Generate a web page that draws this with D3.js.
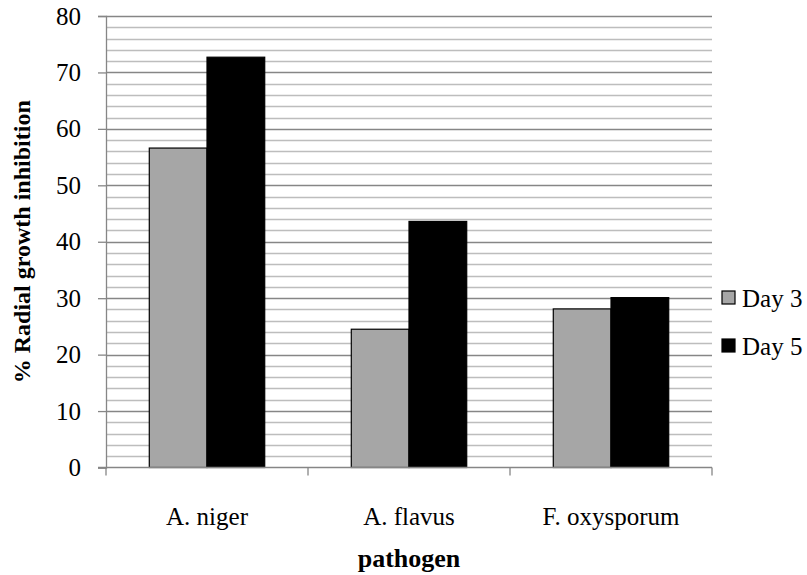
<!DOCTYPE html>
<html>
<head>
<meta charset="utf-8">
<script src="https://cdn.jsdelivr.net/npm/d3@7/dist/d3.min.js"></script>
<style>
  html, body { margin: 0; padding: 0; background: #fff; }
  svg { display: block; }
</style>
</head>
<body>
<svg id="chart" width="807" height="575"></svg>
<script>
// Pathogens on the category axis
const categories = ["A. niger", "A. flavus", "F. oxysporum"];
// Series: percent radial growth inhibition
const seriesNames = ["Day 3", "Day 5"];
const day3 = [56.6, 24.5, 28.1];
const day5 = [72.7, 43.6, 30.1];
const seriesColors = ["#a6a6a6", "#000000"];
// Y axis ticks
const yTicks = [0, 10, 20, 30, 40, 50, 60, 70, 80];
const yMinorStep = 2;

const SERIF = "'Liberation Serif', 'Times New Roman', Times, serif";
const svg = d3.select("#chart");
const plotLeft = 106, plotRight = 712, plotTop = 16, plotBottom = 467.5;

const x = d3.scaleBand().domain(categories).range([plotLeft, plotRight]).paddingInner(0).paddingOuter(0);
const y = d3.scaleLinear().domain([0, 80]).range([plotBottom, plotTop]);

// Excel-style gap width 150%: band = 2 bars + 1.5 bar
const barW = x.bandwidth() / 3.5;
const gap = barW * 0.75;

// Gridlines: minor every 2, major every 10
const minor = d3.range(0, 80 + 0.001, yMinorStep).filter(v => v % 10 !== 0);
svg.append("g").selectAll("line").data(minor).join("line")
  .attr("x1", plotLeft).attr("x2", plotRight)
  .attr("y1", d => Math.round(y(d)) + 0.5).attr("y2", d => Math.round(y(d)) + 0.5)
  .attr("stroke", "#bdbdbd").attr("stroke-width", 1.3);
svg.append("g").selectAll("line").data(yTicks.filter(v => v > 0)).join("line")
  .attr("x1", plotLeft).attr("x2", plotRight)
  .attr("y1", d => Math.round(y(d)) + 0.5).attr("y2", d => Math.round(y(d)) + 0.5)
  .attr("stroke", "#868686").attr("stroke-width", 1.3);

// Bars
const series = [day3, day5];
series.forEach((vals, si) => {
  svg.append("g").selectAll("rect").data(categories).join("rect")
    .attr("x", (c) => x(c) + gap + si * barW)
    .attr("y", (c, i) => y(vals[i]))
    .attr("width", barW)
    .attr("height", (c, i) => y(0) - y(vals[i]))
    .attr("fill", seriesColors[si])
    .attr("stroke", "#000").attr("stroke-width", 1.2);
});

// Y axis
const yAxis = d3.axisLeft(y).tickValues(yTicks).tickSize(8).tickPadding(17).tickFormat(d3.format("d"));
const gy = svg.append("g").attr("transform", `translate(${plotLeft},0)`).call(yAxis);
gy.attr("font-family", null).attr("font-size", null);
gy.select(".domain").attr("stroke", "#868686").attr("stroke-width", 1.3);
gy.selectAll(".tick line").attr("stroke", "#868686").attr("stroke-width", 1.3);
gy.selectAll(".tick text").style("font-family", SERIF).style("font-size", "25px").attr("fill", "#000");

// X axis with boundary ticks between categories
const xAxisG = svg.append("g");
xAxisG.append("line").attr("x1", plotLeft - 8).attr("x2", plotRight)
  .attr("y1", plotBottom).attr("y2", plotBottom)
  .attr("stroke", "#868686").attr("stroke-width", 1.3);
const boundaries = categories.map(c => x(c)).concat([x(categories[categories.length - 1]) + x.bandwidth()]);
xAxisG.selectAll("line.bt").data(boundaries).join("line").attr("class", "bt")
  .attr("x1", d => d).attr("x2", d => d)
  .attr("y1", plotBottom).attr("y2", plotBottom + 8)
  .attr("stroke", "#868686").attr("stroke-width", 1.3);
xAxisG.selectAll("text").data(categories).join("text")
  .attr("x", c => x(c) + x.bandwidth() / 2)
  .attr("y", 525)
  .attr("text-anchor", "middle")
  .style("font-family", SERIF).style("font-size", "25px")
  .text(c => c);

// Axis titles
svg.append("text")
  .attr("x", (plotLeft + plotRight) / 2).attr("y", 567)
  .attr("text-anchor", "middle")
  .style("font-family", SERIF).style("font-size", "26px").style("font-weight", "bold")
  .text("pathogen");
svg.append("text")
  .attr("transform", `translate(30,${(plotTop + plotBottom) / 2}) rotate(-90)`)
  .attr("text-anchor", "middle")
  .style("font-family", SERIF).style("font-size", "24px").style("font-weight", "bold")
  .text("% Radial growth inhibition");

// Legend
const legend = svg.append("g");
seriesNames.forEach((name, i) => {
  const ly = 291 + i * 48;
  legend.append("rect").attr("x", 722).attr("y", ly).attr("width", 13).attr("height", 13)
    .attr("fill", seriesColors[i]).attr("stroke", "#000").attr("stroke-width", 1.2);
  legend.append("text").attr("x", 742).attr("y", ly + 15.5)
    .style("font-family", SERIF).style("font-size", "25px").text(name);
});
</script>
</body>
</html>
